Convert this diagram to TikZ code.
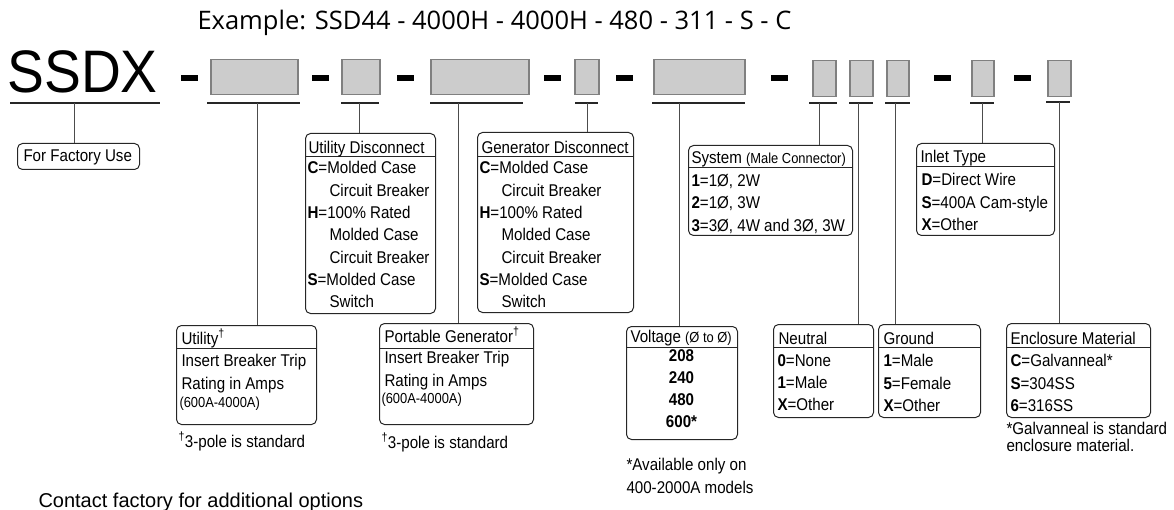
\documentclass[tikz,border=0pt]{standalone}
\usepackage{fontspec}
\setmainfont{Liberation Sans}
\newfontfamily\narrowsf[FakeStretch=0.89]{Liberation Sans}
\newfontfamily\titlesf{Open Sans}
\usetikzlibrary{positioning}

\tikzset{every picture/.style={line width=1pt}}
\tikzset{
	codebox/.style={draw={rgb, 255:red, 128; green, 128; blue, 128}, line width=1.5pt, fill={rgb, 255:red, 204; green, 204; blue, 204}, inner sep=0pt, anchor=north west},
	dashbar/.style={fill=black, draw=none},
	ruleline/.style={line width=2.6pt, draw=black!85},
	link/.style={draw=black!70, line width=1pt},
	descbox/.style={draw=black!85, rounded corners=5pt, line width=1pt, inner sep=0pt, anchor=north west},
	headline/.style={draw=black!85, line width=1pt},
	boxtext/.style={font=\narrowsf\fontsize{17}{22.3}\selectfont, inner sep=0pt, align=left},
	smalltext/.style={font=\narrowsf\fontsize{14.5}{16}\selectfont, inner sep=0pt}
}

\begin{document}
\begin{tikzpicture}[x=1pt,y=1pt,yscale=-1,xscale=1]
	\useasboundingbox (0,0) rectangle (1174,510);

	% Title
	\node [anchor=base west, inner sep=0pt, font=\titlesf\fontsize{25.5}{28}\selectfont] (example) at (197,29.5) {Example: SSD44 - 4000H - 4000H - 480 - 311 - S - C};
	% Model prefix
	\node [anchor=base west, inner sep=0pt, font=\fontsize{60}{60}\selectfont\addfontfeature{FakeStretch=0.92}] (model) at (7,93) {SSDX};

	%Shape: Dashes
	\fill [dashbar] (181,75) rectangle (198,81);
	\fill [dashbar] (312,75) rectangle (329,81);
	\fill [dashbar] (397,75) rectangle (414,81);
	\fill [dashbar] (544,75) rectangle (561,81);
	\fill [dashbar] (616,75) rectangle (633,81);
	\fill [dashbar] (771,75) rectangle (788,81);
	\fill [dashbar] (934,75) rectangle (951,81);
	\fill [dashbar] (1014,75) rectangle (1031,81);

	%Shape: Code boxes
	\node [codebox, minimum width=87pt, minimum height=35pt] (code1) at (210,59) {};
	\node [codebox, minimum width=38pt, minimum height=35pt] (code2) at (341,59) {};
	\node [codebox, minimum width=98pt, minimum height=35pt] (code3) at (430,59) {};
	\node [codebox, minimum width=24pt, minimum height=35pt] (code4) at (574,59) {};
	\node [codebox, minimum width=91pt, minimum height=35pt] (code5) at (653,59) {};
	\node [codebox, minimum width=23pt, minimum height=36pt] (code6) at (812,60) {};
	\node [codebox, minimum width=23pt, minimum height=36pt] (code7) at (849,60) {};
	\node [codebox, minimum width=22pt, minimum height=36pt] (code8) at (886,60) {};
	\node [codebox, minimum width=22pt, minimum height=36pt] (code9) at (971,60) {};
	\node [codebox, minimum width=23pt, minimum height=36pt] (code10) at (1047,60) {};

	%Shape: Underlines
	\draw [ruleline] (10,103) -- (160,103);
	\draw [ruleline] (207,103) -- (300,103);
	\draw [ruleline] (341,103) -- (379,103);
	\draw [ruleline] (430,103) -- (523,103);
	\draw [ruleline] (575,103) -- (598,103);
	\draw [ruleline] (652,103) -- (745,103);
	\draw [ruleline] (809,103) -- (837,103);
	\draw [ruleline] (849,103) -- (873,103);
	\draw [ruleline] (885,103) -- (910,103);
	\draw [ruleline] (970,103) -- (994,103);
	\draw [ruleline] (1046,102) -- (1070,102);

	% Tap points on the underlines
	\coordinate (tap0) at (74,103);
	\coordinate (tap1) at (257,103);
	\coordinate (tap2) at (359,103);
	\coordinate (tap3) at (458,103);
	\coordinate (tap4) at (587,103);
	\coordinate (tap5) at (679,103);
	\coordinate (tap6) at (819,103);
	\coordinate (tap7) at (858,103);
	\coordinate (tap8) at (895,103);
	\coordinate (tap9) at (982,103);
	\coordinate (tap10) at (1059,102);

	%Shape: Description boxes
	\node [descbox, minimum width=122pt, minimum height=26pt] (factory) at (17,143) {};
	\node [descbox, minimum width=130pt, minimum height=180pt] (udisc) at (305,133) {};
	\node [descbox, minimum width=156pt, minimum height=180pt] (gdisc) at (477,132) {};
	\node [descbox, minimum width=164pt, minimum height=90pt] (system) at (688,145) {};
	\node [descbox, minimum width=138pt, minimum height=92pt] (inlet) at (916,143) {};
	\node [descbox, minimum width=140pt, minimum height=99pt] (utility) at (176,325) {};
	\node [descbox, minimum width=154pt, minimum height=101pt] (portgen) at (379,323) {};
	\node [descbox, minimum width=111pt, minimum height=113pt] (voltage) at (626,326) {};
	\node [descbox, minimum width=100pt, minimum height=93pt] (neutral) at (773,324) {};
	\node [descbox, minimum width=102pt, minimum height=93pt] (ground) at (878,324) {};
	\node [descbox, minimum width=144pt, minimum height=94pt] (enclosure) at (1006,323) {};

	%Shape: Header lines
	\draw [headline] ([yshift=24pt]udisc.north west) -- ([yshift=24pt]udisc.north east);
	\draw [headline] ([yshift=25pt]gdisc.north west) -- ([yshift=25pt]gdisc.north east);
	\draw [headline] ([yshift=23pt]system.north west) -- ([yshift=23pt]system.north east);
	\draw [headline] ([yshift=24pt]inlet.north west) -- ([yshift=24pt]inlet.north east);
	\draw [headline] ([yshift=23pt]utility.north west) -- ([yshift=23pt]utility.north east);
	\draw [headline] ([yshift=25pt]portgen.north west) -- ([yshift=25pt]portgen.north east);
	\draw [headline] ([yshift=21pt]voltage.north west) -- ([yshift=21pt]voltage.north east);
	\draw [headline] ([yshift=23pt]neutral.north west) -- ([yshift=23pt]neutral.north east);
	\draw [headline] ([yshift=23pt]ground.north west) -- ([yshift=23pt]ground.north east);
	\draw [headline] ([yshift=24pt]enclosure.north west) -- ([yshift=24pt]enclosure.north east);

	%Connectors
	\draw [link] (tap0) -- (tap0 |- factory.north);
	\draw [link] (tap1) -- (tap1 |- utility.north);
	\draw [link] (tap2) -- (tap2 |- udisc.north);
	\draw [link] (tap3) -- (tap3 |- portgen.north);
	\draw [link] (tap4) -- (tap4 |- gdisc.north);
	\draw [link] (tap5) -- (tap5 |- voltage.north);
	\draw [link] (tap6) -- (tap6 |- system.north);
	\draw [link] (tap7) -- (tap7 |- neutral.north);
	\draw [link] (tap8) -- (tap8 |- ground.north);
	\draw [link] (tap9) -- (tap9 |- inlet.north);
	\draw [link] (tap10) -- (tap10 |- enclosure.north);

	% Text Node
	\node [boxtext, anchor=base west] (factory-t) at (23,162) {For Factory Use};

	% Text Node
	\node [boxtext, anchor=base west] (udisc-h) at (308,154) {Utility Disconnect};
	\node [boxtext, anchor=north west] (udisc-t) at (307,161) {\textbf{C}=Molded Case\\
		\hspace*{22pt}Circuit Breaker\\
		\textbf{H}=100\% Rated\\
		\hspace*{22pt}Molded Case\\
		\hspace*{22pt}Circuit Breaker\\
		\textbf{S}=Molded Case\\
		\hspace*{22pt}Switch};

	% Text Node
	\node [boxtext, anchor=base west] (gdisc-h) at (481,154) {Generator Disconnect};
	\node [boxtext, anchor=north west] (gdisc-t) at (479,161) {\textbf{C}=Molded Case\\
		\hspace*{22pt}Circuit Breaker\\
		\textbf{H}=100\% Rated\\
		\hspace*{22pt}Molded Case\\
		\hspace*{22pt}Circuit Breaker\\
		\textbf{S}=Molded Case\\
		\hspace*{22pt}Switch};

	% Text Node
	\node [boxtext, anchor=base west] (system-h) at (691,164) {System {\fontsize{14.5}{16}\selectfont(Male Connector)}};
	\node [boxtext, anchor=north west] (system-t) at (691,174) {\textbf{1}=1Ø, 2W\\
		\textbf{2}=1Ø, 3W\\
		\textbf{3}=3Ø, 4W and 3Ø, 3W};

	% Text Node
	\node [boxtext, anchor=base west] (inlet-h) at (920,163) {Inlet Type};
	\node [boxtext, anchor=north west] (inlet-t) at (921,173) {\textbf{D}=Direct Wire\\
		\textbf{S}=400A Cam-style\\
		\textbf{X}=Other};

	% Text Node
	\node [boxtext, anchor=base west] (utility-h) at (181,344) {Utility\textsuperscript{†}};
	\node [boxtext, anchor=north west] (utility-t) at (181,354) {Insert Breaker Trip\\Rating in Amps};
	\node [smalltext, anchor=base west] (utility-r) at (179,407) {(600A-4000A)};
	\node [boxtext, anchor=base west] (utility-n) at (178,447) {\textsuperscript{†}3-pole is standard};

	% Text Node
	\node [boxtext, anchor=base west] (portgen-h) at (384,342) {Portable Generator\textsuperscript{†}};
	\node [boxtext, anchor=north west] (portgen-t) at (384,351) {Insert Breaker Trip\\Rating in Amps};
	\node [smalltext, anchor=base west] (portgen-r) at (381,403) {(600A-4000A)};
	\node [boxtext, anchor=base west] (portgen-n) at (381,448) {\textsuperscript{†}3-pole is standard};

	% Text Node
	\node [boxtext, anchor=base west] (voltage-h) at (630,342) {Voltage {\fontsize{14.5}{16}\selectfont(Ø to Ø)}};
	\node [boxtext, anchor=base] (v208) at (681.5,361) {\textbf{208}};
	\node [boxtext, anchor=base] (v240) at (681.5,383.3) {\textbf{240}};
	\node [boxtext, anchor=base] (v480) at (681.5,405.6) {\textbf{480}};
	\node [boxtext, anchor=base] (v600) at (681.5,427.9) {\textbf{600*}};
	\node [boxtext, anchor=north west] (voltage-n) at (626,458) {*Available only on\\400-2000A models};

	% Text Node
	\node [boxtext, anchor=base west] (neutral-h) at (778,344) {Neutral};
	\node [boxtext, anchor=north west] (neutral-t) at (777,354) {\textbf{0}=None\\
		\textbf{1}=Male\\
		\textbf{X}=Other};

	% Text Node
	\node [boxtext, anchor=base west] (ground-h) at (883,344) {Ground};
	\node [boxtext, anchor=north west] (ground-t) at (883,354) {\textbf{1}=Male\\
		\textbf{5}=Female\\
		\textbf{X}=Other};

	% Text Node
	\node [boxtext, anchor=base west] (enclosure-h) at (1010,344) {Enclosure Material};
	\node [boxtext, anchor=north west] (enclosure-t) at (1010,354) {\textbf{C}=Galvanneal*\\
		\textbf{S}=304SS\\
		\textbf{6}=316SS};
	\node [boxtext, anchor=base west] (enclosure-n1) at (1006,434) {*Galvanneal is standard};
	\node [boxtext, anchor=base west] (enclosure-n2) at (1006,451) {enclosure material.};

	% Footer
	\node [anchor=base west, inner sep=0pt, font=\fontsize{20}{22}\selectfont] (contact) at (38,507) {Contact factory for additional options};

\end{tikzpicture}
\end{document}
